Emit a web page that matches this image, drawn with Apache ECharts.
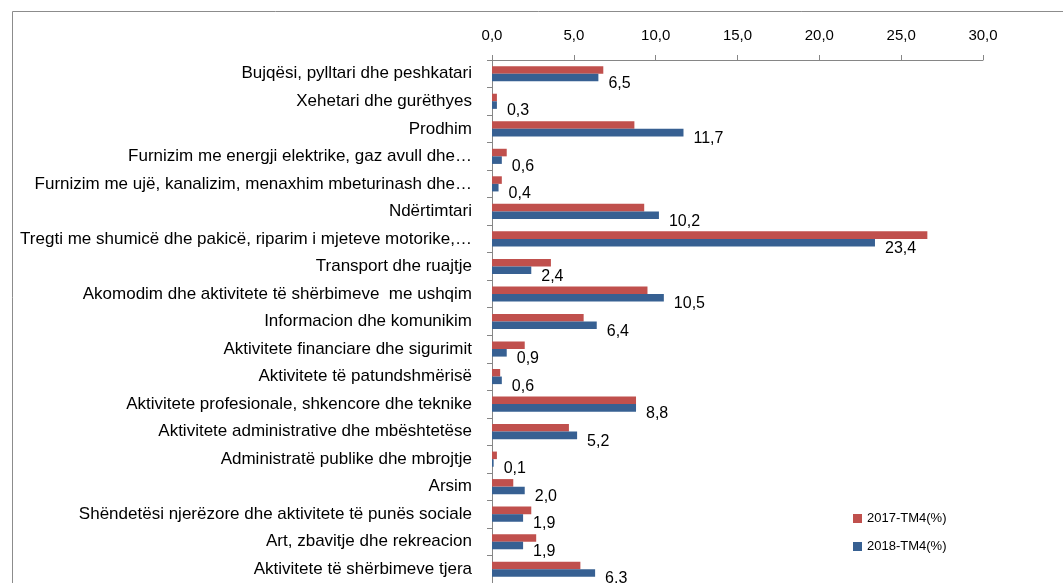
<!DOCTYPE html>
<html>
<head>
<meta charset="utf-8">
<script src="https://cdn.jsdelivr.net/npm/echarts@6/dist/echarts.min.js"></script>
<style>
  html, body { margin: 0; padding: 0; background: #fff; }
  #chart { width: 1063px; height: 583px; }
</style>
</head>
<body>
<div id="chart"></div>
<script>
var categories = [
  'Bujqësi, pylltari dhe peshkatari',
  'Xehetari dhe gurëthyes',
  'Prodhim',
  'Furnizim me energji elektrike, gaz avull dhe…',
  'Furnizim me ujë, kanalizim, menaxhim mbeturinash dhe…',
  'Ndërtimtari',
  'Tregti me shumicë dhe pakicë, riparim i mjeteve motorike,…',
  'Transport dhe ruajtje',
  'Akomodim dhe aktivitete të shërbimeve  me ushqim',
  'Informacion dhe komunikim',
  'Aktivitete financiare dhe sigurimit',
  'Aktivitete të patundshmërisë',
  'Aktivitete profesionale, shkencore dhe teknike',
  'Aktivitete administrative dhe mbështetëse',
  'Administratë publike dhe mbrojtje',
  'Arsim',
  'Shëndetësi njerëzore dhe aktivitete të punës sociale',
  'Art, zbavitje dhe rekreacion',
  'Aktivitete të shërbimeve tjera'
];
var values2017 = [6.8, 0.3, 8.7, 0.9, 0.6, 9.3, 26.6, 3.6, 9.5, 5.6, 2.0, 0.5, 8.8, 4.7, 0.3, 1.3, 2.4, 2.7, 5.4];
var values2018 = [6.5, 0.3, 11.7, 0.6, 0.4, 10.2, 23.4, 2.4, 10.5, 6.4, 0.9, 0.6, 8.8, 5.2, 0.1, 2.0, 1.9, 1.9, 6.3];
var seriesNames = ['2017-TM4(%)', '2018-TM4(%)'];

var red = '#C0504D';
var blue = '#376092';
var axisGray = '#868686';

function fmt(v) { return v.toFixed(1).replace('.', ','); }

var chart = echarts.init(document.getElementById('chart'), null, { renderer: 'canvas' });
chart.setOption({
  animation: false,
  backgroundColor: '#fff',
  textStyle: { fontFamily: 'Liberation Sans, Arial, sans-serif' },
  graphic: [{
    type: 'rect',
    left: 10, top: 9,
    shape: { width: 1070, height: 600 },
    style: { fill: 'none', stroke: '#8c8c8c', lineWidth: 1 },
    silent: true
  }],
  legend: {
    orient: 'vertical',
    left: 848, top: 507,
    itemWidth: 9, itemHeight: 9,
    itemGap: 15,
    icon: 'rect',
    textStyle: { fontSize: 13, color: '#000', fontFamily: 'Liberation Sans' },
    data: seriesNames
  },
  grid: { left: 492, right: 80, top: 60, height: 524 },
  xAxis: {
    type: 'value',
    position: 'top',
    min: 0, max: 30, interval: 5,
    axisLine: { show: true, lineStyle: { color: axisGray } },
    axisTick: { show: true, length: 5, lineStyle: { color: axisGray } },
    axisLabel: { color: '#000', fontSize: 15, margin: 17, formatter: fmt },
    splitLine: { show: false }
  },
  yAxis: {
    type: 'category',
    inverse: true,
    data: categories,
    axisLine: { show: true, lineStyle: { color: axisGray } },
    axisTick: { show: true, length: 5, lineStyle: { color: axisGray } },
    axisLabel: { color: '#000', fontSize: 17, margin: 20, interval: 0 }
  },
  series: [{
    name: seriesNames[0],
    type: 'bar',
    data: values2017,
    itemStyle: { color: red },
    barGap: '0%',
    barCategoryGap: '45%'
  }, {
    name: seriesNames[1],
    type: 'bar',
    data: values2018,
    itemStyle: { color: blue },
    barGap: '0%',
    barCategoryGap: '45%',
    label: {
      show: true,
      position: 'right',
      distance: 10,
      offset: [0, 6],
      color: '#000',
      fontSize: 16,
      formatter: function (p) { return fmt(p.value); }
    }
  }]
});
</script>
</body>
</html>
